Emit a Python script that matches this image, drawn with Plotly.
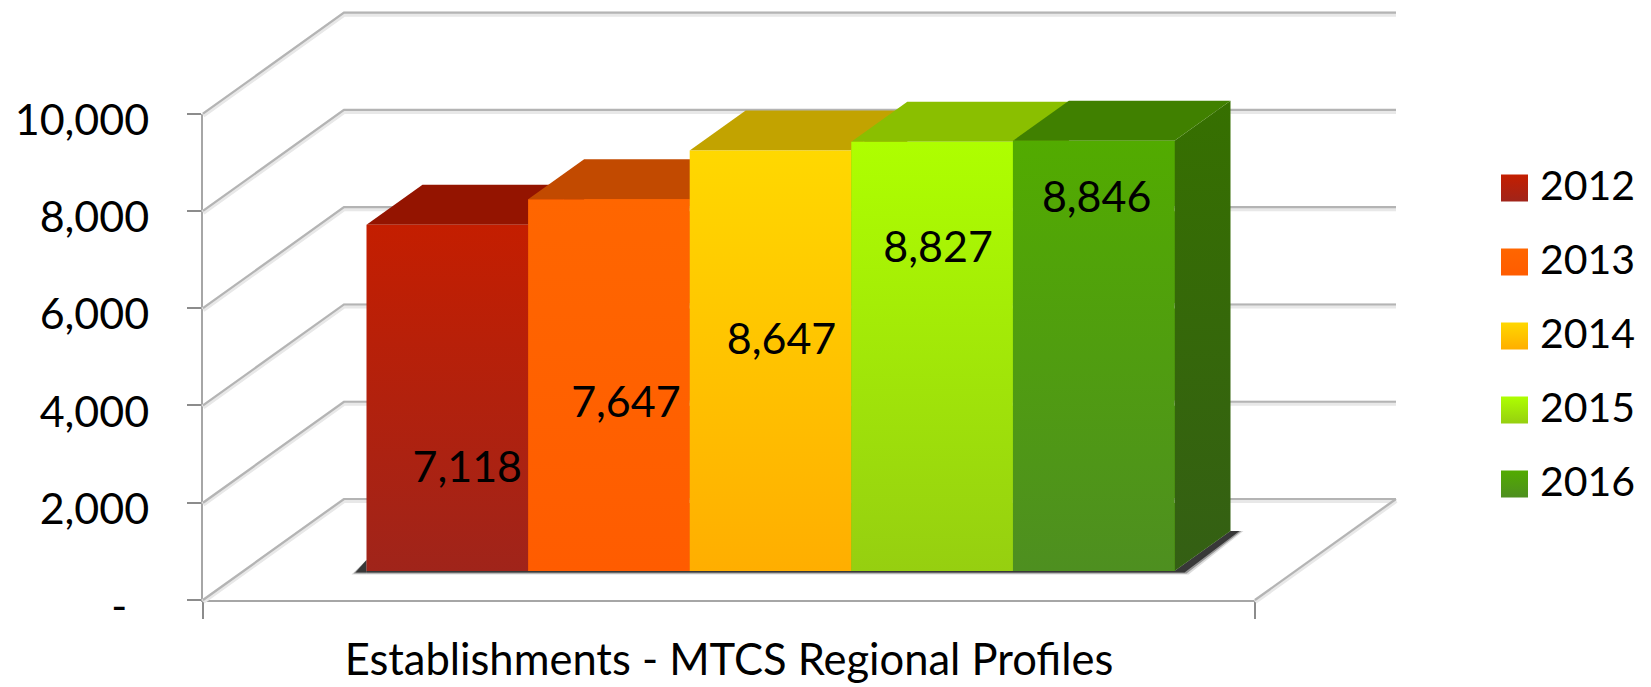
import plotly.graph_objects as go

# ---------- data ----------
years = ["2012", "2013", "2014", "2015", "2016"]
values = [7118, 7647, 8647, 8827, 8846]
y_ticks = [0, 2000, 4000, 6000, 8000, 10000]
y_tick_labels = ["-\u00a0\u00a0", "2,000", "4,000", "6,000", "8,000", "10,000"]
x_label = "Establishments - MTCS Regional Profiles"

# ---------- styles ----------
front_top = ["#C41E00", "#FF6600", "#FFD800", "#AEFF00", "#52AB00"]
front_bot = ["#A0241A", "#FF5C00", "#FFAE00", "#96CF10", "#4E8F20"]
top_col = ["#941400", "#C24A00", "#C2A300", "#8ABF00", "#408000"]
side_top = ["#7A1000", "#A03D00", "#A08600", "#72A000", "#367000"]
side_bot = ["#7A1000", "#A03D00", "#A08600", "#72A000", "#345F14"]
GRID = "#B4B4B4"
GRID_SOFT = "#E8E8E8"
AXIS = "#A6A6A6"
FONT = "Lato"
FS = 41
FS_NUM = 43

W, H = 1651, 687
# pixel frame of the axes
PX_L, PX_R, PX_B, PX_T = 203.0, 1255.0, 600.0, 113.7
BAR_W_PX = 161.6
BAR0_PX = 366.5
PX_PER_X = BAR_W_PX
PX_PER_Y = (PX_B - PX_T) / 10000.0


def dx(px):
    return px / PX_PER_X


def dy(px):
    return px / PX_PER_Y


def to_x(p):
    return (p - BAR0_PX) / PX_PER_X


def to_y(p):
    return (PX_B - p) / PX_PER_Y


x_lo, x_hi = to_x(PX_L), to_x(PX_R)
WALL_DX, WALL_DY = dx(141), dy(101)
BAR_DX, BAR_DY = dx(56), dy(40)
BASE = dy(29)

fig = go.Figure()
OV = dict(xaxis="x2", yaxis="y2", showlegend=False, hoverinfo="skip")


def poly(xs, ys, color=None, opacity=1.0, gradient=None):
    kw = dict(fillcolor=color) if gradient is None else dict(fillgradient=gradient)
    fig.add_trace(go.Scatter(x=xs + xs[:1], y=ys + ys[:1], mode="none", fill="toself",
                             opacity=opacity, **OV, **kw))


# true bars (front faces) on the framed axes
for i, (yr, v) in enumerate(zip(years, values)):
    fig.add_trace(go.Bar(x=[i + 0.5], y=[v], base=BASE, width=1, name=yr,
                         marker=dict(color=front_top[i], line=dict(width=0)),
                         showlegend=False, hoverinfo="skip"))

# walls and floor grid (soft halo, then core)
for col, wid, off in [(GRID_SOFT, 5, -dy(1.5)), (GRID, 2.2, 0)]:
    for t in y_ticks:
        fig.add_trace(go.Scatter(
            x=[x_lo, x_lo + WALL_DX, x_hi + WALL_DX],
            y=[t + off, t + WALL_DY + off, t + WALL_DY + off],
            mode="lines", line=dict(color=col, width=wid), **OV))
    fig.add_trace(go.Scatter(
        x=[x_hi, x_hi + WALL_DX], y=[off, WALL_DY + off], mode="lines",
        line=dict(color=col, width=wid), **OV))

# floor shadow, soft layers
n = len(values)
for grow, col, op in [(4, "#B0B0B0", 0.45), (2, "#666666", 0.6), (0, "#2E2E2E", 0.9)]:
    poly([dx(-11 - grow), 0, 0], [BASE - dy(1.5 + grow / 2), BASE - dy(1.5 + grow / 2), BASE + dy(11)], col, op)
    poly([0, n, n + dx(10 + grow), n + BAR_DX + dx(9 + grow), n + BAR_DX, n, 0],
         [BASE - dy(1.5 + grow / 2), BASE - dy(1.5 + grow / 2), BASE - dy(1.5 + grow / 2),
          BASE + BAR_DY, BASE + BAR_DY, BASE, BASE],
         col, op)

# 3-D faces, painted left to right
for i, v in enumerate(values):
    top = BASE + v
    poly([i + 1, i + 1 + BAR_DX, i + 1 + BAR_DX, i + 1],
         [BASE, BASE + BAR_DY, top + BAR_DY, top],
         gradient=dict(type="vertical", colorscale=[[0, side_bot[i]], [1, side_top[i]]]))
    poly([i, i + 1, i + 1 + BAR_DX, i + BAR_DX],
         [top, top, top + BAR_DY, top + BAR_DY], top_col[i])
    poly([i, i + 1, i + 1, i], [BASE, BASE, top, top],
         gradient=dict(type="vertical",
                       colorscale=[[0, front_bot[i]], [1, front_top[i]]]))

# data labels
label_px_shift = [20, 17, 11, 6, 3]
label_y = [2645, 3975, 5270, 7167, 8210]
fig.add_trace(go.Scatter(
    x=[i + 0.5 + dx(s) for i, s in enumerate(label_px_shift)], y=label_y,
    mode="text", text=[f"{v:,}" for v in values], textposition="middle center",
    textfont=dict(family=FONT, size=FS_NUM, color="#000000"), **OV))

# legend
leg_x_px, leg_txt_px = 1514.5, 1540
leg_y_px = [188, 262, 336, 410, 484]
for i, yr in enumerate(years):
    fig.add_trace(go.Scatter(
        x=[to_x(leg_x_px)], y=[to_y(leg_y_px[i])], mode="markers", name=yr,
        marker=dict(symbol="square", size=27, color=front_top[i], line=dict(width=0),
                    gradient=dict(type="vertical", color=front_bot[i])), **OV))
    fig.add_trace(go.Scatter(
        x=[to_x(leg_txt_px)], y=[to_y(leg_y_px[i] + 2)], mode="text", text=[yr],
        textposition="middle right", textfont=dict(family=FONT, size=FS, color="#000000"), **OV))

fig.update_layout(
    width=W, height=H, margin=dict(l=0, r=0, t=0, b=0), autosize=False,
    plot_bgcolor="rgba(0,0,0,0)", paper_bgcolor="white", showlegend=False, bargap=0,
    font=dict(family=FONT, size=FS, color="#000000"),
    xaxis=dict(domain=[PX_L / W, PX_R / W], range=[x_lo, x_hi], automargin=False,
               tickmode="array", tickvals=[x_lo, x_hi], ticktext=["", ""],
               ticks="outside", ticklen=17, tickwidth=2, tickcolor="#8C8C8C",
               tickfont=dict(family=FONT, size=57),
               showgrid=False, zeroline=False, showline=True, linecolor=AXIS, linewidth=2.4,
               title=dict(text=x_label, font=dict(family=FONT, size=43.5))),
    yaxis=dict(domain=[(H - PX_B) / H, (H - PX_T) / H], range=[0, 10000], automargin=False,
               tickmode="array", tickvals=y_ticks, ticktext=y_tick_labels,
               ticks="outside", ticklen=14, tickwidth=2, tickcolor="#8C8C8C",
               ticklabelstandoff=29, ticklabelshift=6, tickfont=dict(family=FONT, size=FS_NUM),
               showgrid=False, zeroline=False, showline=True, linecolor=AXIS, linewidth=2.4),
    # invisible full-page axes in the same data units, for the parts of the 3-D
    # drawing that leave the framed plot area
    xaxis2=dict(domain=[0, 1], range=[to_x(0), to_x(W)], visible=False, anchor="y2", automargin=False),
    yaxis2=dict(domain=[0, 1], range=[to_y(H), to_y(0)], visible=False, anchor="x2", automargin=False),
)

fig.write_html("out.html", config={"displayModeBar": False},
               post_script="document.body.style.margin='0';document.documentElement.style.overflow='hidden';")
